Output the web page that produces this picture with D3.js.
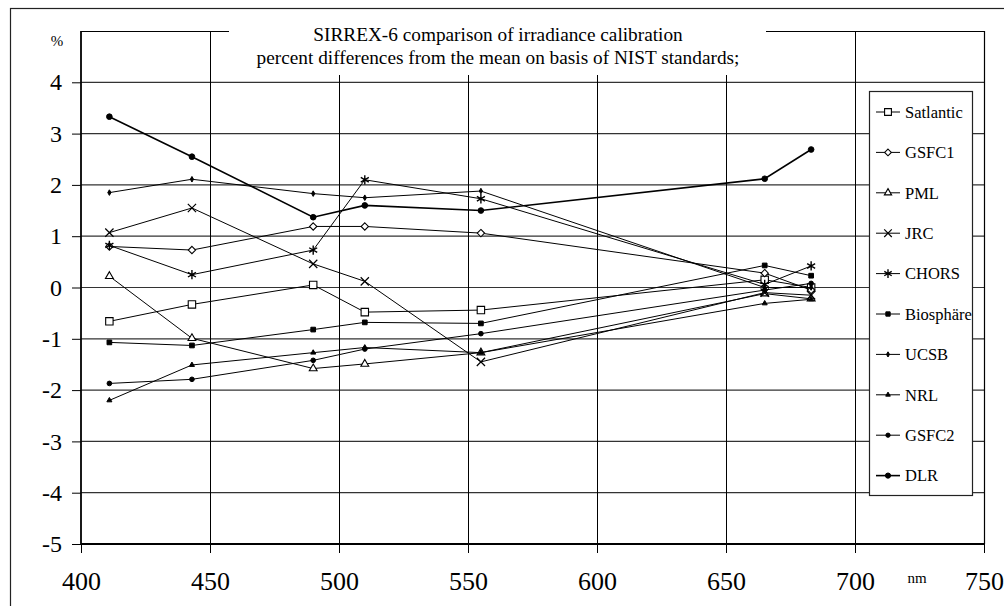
<!DOCTYPE html>
<html>
<head>
<meta charset="utf-8">
<script src="https://cdn.jsdelivr.net/npm/d3@7"></script>
<style>
  body { margin: 0; background: #fff; }
  svg { display: block; }
  svg text { font-family: "Liberation Serif", "Times New Roman", serif; fill: #000; }
</style>
</head>
<body>
<svg width="1004" height="606"></svg>
<script>
// wavelengths in nm
var wavelengths = [411, 443, 490, 510, 555, 665, 683];

// percent differences from the mean, one array per lab
var satlantic = [-0.66, -0.33, 0.05, -0.48, -0.44, 0.15, 0.00];
var gsfc1     = [0.80, 0.73, 1.19, 1.19, 1.06, 0.28, -0.05];
var pml       = [0.22, -0.99, -1.58, -1.49, -1.27, -0.12, -0.22];
var jrc       = [1.07, 1.55, 0.46, 0.12, -1.45, -0.10, -0.15];
var chors     = [0.82, 0.25, 0.73, 2.10, 1.73, 0.06, 0.42];
var biosphaere = [-1.07, -1.13, -0.82, -0.68, -0.70, 0.43, 0.23];
var ucsb      = [1.85, 2.11, 1.83, 1.75, 1.88, 0.00, 0.00];
var nrl       = [-2.20, -1.51, -1.27, -1.17, -1.27, -0.31, -0.23];
var gsfc2     = [-1.87, -1.79, -1.42, -1.20, -0.90, -0.05, 0.08];
var dlr       = [3.33, 2.55, 1.37, 1.60, 1.50, 2.12, 2.69];

var seriesNames = ["Satlantic", "GSFC1", "PML", "JRC", "CHORS", "Biosphäre", "UCSB", "NRL", "GSFC2", "DLR"];
var seriesValues = [satlantic, gsfc1, pml, jrc, chors, biosphaere, ucsb, nrl, gsfc2, dlr];

var xTicks = [400, 450, 500, 550, 600, 650, 700, 750];
var yTicks = [-5, -4, -3, -2, -1, 0, 1, 2, 3, 4];
var titleLines = ["SIRREX-6 comparison of irradiance calibration",
                  "percent differences from the mean on basis of NIST standards;"];

// marker style per series
var markers = [
  {type: d3.symbolSquare2, size: 70, fill: "#fff", sw: 1.1},
  {type: d3.symbolDiamond2, size: 34, fill: "#fff", sw: 1.1},
  {type: d3.symbolTriangle2, size: 44, fill: "#fff", sw: 1.1},
  {type: d3.symbolX, size: 46, fill: "none", sw: 1.2},
  {type: d3.symbolAsterisk, size: 60, fill: "none", sw: 1.4},
  {type: d3.symbolSquare, size: 22, fill: "#000", sw: 1},
  {type: d3.symbolDiamond, size: 9, fill: "#000", sw: 1},
  {type: d3.symbolTriangle, size: 11, fill: "#000", sw: 1},
  {type: d3.symbolCircle, size: 17, fill: "#000", sw: 1},
  {type: d3.symbolCircle, size: 25, fill: "#000", sw: 1}
];

var svg = d3.select("svg"),
    plotLeft = 81, plotRight = 984, plotTop = 31, plotBottom = 544;

var x = d3.scaleLinear().domain([400, 750]).range([plotLeft, plotRight]),
    y = d3.scaleLinear().domain([-5, 5]).range([plotBottom, plotTop]);

// outer frame
svg.append("rect")
    .attr("x", 10.5).attr("y", 8.5)
    .attr("width", 1000).attr("height", 600)
    .attr("fill", "none").attr("stroke", "#222").attr("stroke-width", 1.2);

// grid
var g = svg.append("g");
g.selectAll(".hgrid")
  .data(yTicks.filter(function (d) { return d > -5; }))
  .enter().append("line")
    .attr("x1", plotLeft).attr("x2", plotRight)
    .attr("y1", function (d) { return y(d); })
    .attr("y2", function (d) { return y(d); })
    .attr("stroke", "#333").attr("stroke-width", 1.2);

g.selectAll(".vgrid")
  .data(xTicks.filter(function (d) { return d > 400 && d < 750; }))
  .enter().append("line")
    .attr("x1", function (d) { return Math.round(x(d)) + 0.5; })
    .attr("x2", function (d) { return Math.round(x(d)) + 0.5; })
    .attr("y1", plotTop).attr("y2", plotBottom)
    .attr("stroke", "#000").attr("stroke-width", 1);

// plot border: top and right thin, left and bottom heavier
g.append("line").attr("x1", plotLeft).attr("x2", plotRight).attr("y1", plotTop + 0.5).attr("y2", plotTop + 0.5)
    .attr("stroke", "#000").attr("stroke-width", 1.2);
g.append("line").attr("x1", plotRight + 0.5).attr("x2", plotRight + 0.5).attr("y1", plotTop).attr("y2", plotBottom)
    .attr("stroke", "#000").attr("stroke-width", 1.2);
g.append("line").attr("x1", plotLeft).attr("x2", plotLeft).attr("y1", plotTop).attr("y2", plotBottom + 1)
    .attr("stroke", "#000").attr("stroke-width", 1.8);
g.append("line").attr("x1", plotLeft).attr("x2", plotRight).attr("y1", plotBottom).attr("y2", plotBottom)
    .attr("stroke", "#000").attr("stroke-width", 1.8);

// axes
var yAxis = svg.append("g")
    .attr("transform", "translate(" + plotLeft + ",0)")
    .call(d3.axisLeft(y).tickValues(yTicks).tickSize(9).tickPadding(10)
      .tickFormat(function (d) { return d < 0 ? "-" + Math.abs(d) : d; }));
yAxis.select(".domain").remove();
yAxis.selectAll("text").style("font-size", "24px");

var xAxis = svg.append("g")
    .attr("transform", "translate(0," + plotBottom + ")")
    .call(d3.axisBottom(x).tickValues(xTicks).tickSize(9).tickPadding(19));
xAxis.select(".domain").remove();
xAxis.selectAll("text").style("font-size", "26px");

svg.append("text").attr("x", 57).attr("y", 46).attr("text-anchor", "middle")
    .style("font-size", "15px").text("%");
svg.append("text").attr("x", 917).attr("y", 583).attr("text-anchor", "middle")
    .style("font-size", "15px").text("nm");

// title box covering the top of the grid
svg.append("rect").attr("x", 229).attr("y", 20).attr("width", 537).attr("height", 55)
    .attr("fill", "#fff");
svg.selectAll(".title")
  .data(titleLines)
  .enter().append("text")
    .attr("x", 498)
    .attr("y", function (d, i) { return 41 + i * 23; })
    .attr("text-anchor", "middle")
    .style("font-size", "19.3px")
    .text(function (d) { return d; });

// series
var series = seriesNames.map(function (name, i) {
  return {
    name: name,
    marker: markers[i],
    values: wavelengths.map(function (w, j) { return {wl: w, v: seriesValues[i][j]}; })
  };
});

var line = d3.line()
    .x(function (d) { return x(d.wl); })
    .y(function (d) { return y(d.v); });

var lab = svg.selectAll(".series")
  .data(series)
  .enter().append("g")
    .attr("class", "series");

lab.append("path")
    .attr("d", function (d) { return line(d.values); })
    .attr("fill", "none")
    .attr("stroke", "#000")
    .attr("stroke-width", function (d) { return d.name === "DLR" ? 1.6 : 1; });

lab.each(function (s) {
  d3.select(this).selectAll("path.mark")
    .data(s.values)
    .enter().append("path")
      .attr("class", "mark")
      .attr("transform", function (d) { return "translate(" + x(d.wl) + "," + y(d.v) + ")"; })
      .attr("d", d3.symbol().type(s.marker.type).size(s.marker.size))
      .attr("fill", s.marker.fill)
      .attr("stroke", "#000")
      .attr("stroke-width", s.marker.sw);
});

// legend
var legend = svg.append("g");
legend.append("rect")
    .attr("x", 869.5).attr("y", 91.5).attr("width", 103).attr("height", 404)
    .attr("fill", "#fff").attr("stroke", "#222").attr("stroke-width", 1.2);

var item = legend.selectAll(".item")
  .data(series)
  .enter().append("g")
    .attr("transform", function (d, i) { return "translate(0," + (112 + i * 40.4) + ")"; });

item.append("line")
    .attr("x1", 876).attr("x2", 900).attr("y1", 0).attr("y2", 0)
    .attr("stroke", "#000")
    .attr("stroke-width", function (d) { return d.name === "DLR" ? 1.6 : 1; });
item.append("path")
    .attr("transform", "translate(888,0)")
    .attr("d", function (d) { return d3.symbol().type(d.marker.type).size(d.marker.size * 0.85)(); })
    .attr("fill", function (d) { return d.marker.fill; })
    .attr("stroke", "#000")
    .attr("stroke-width", function (d) { return d.marker.sw; });
item.append("text")
    .attr("x", 905).attr("dy", "0.35em")
    .style("font-size", "16.5px")
    .text(function (d) { return d.name; });
</script>
</body>
</html>
